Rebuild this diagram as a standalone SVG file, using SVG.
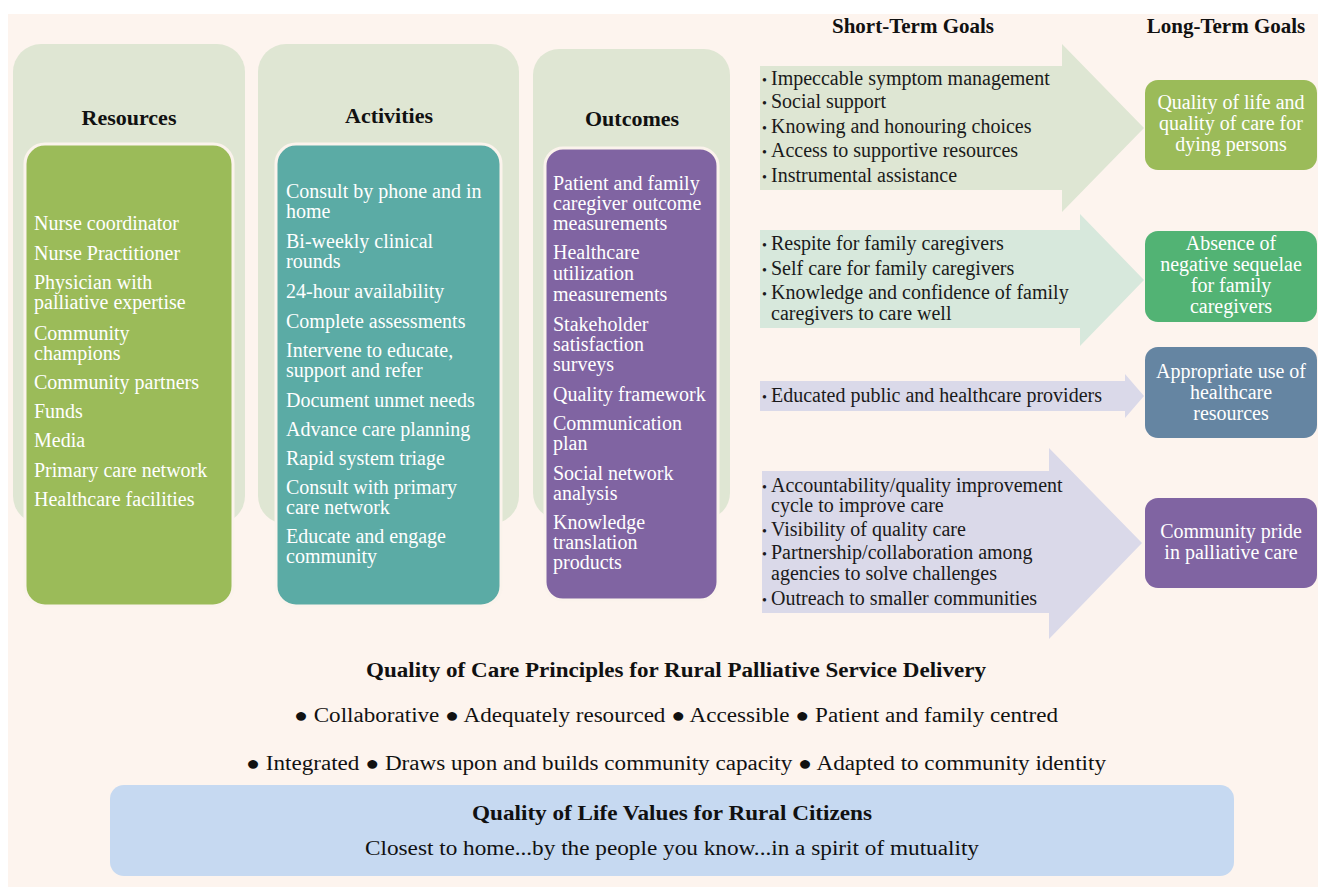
<svg xmlns="http://www.w3.org/2000/svg" width="1318" height="887" viewBox="0 0 1318 887">
  <style>
    .title { font-family: "Liberation Serif", "Times New Roman", serif; font-weight: bold; fill: #111111; }
    .item { font-family: "Liberation Serif", "Times New Roman", serif; font-size: 20px; fill: #ffffff; }
    .goal { font-family: "Liberation Serif", "Times New Roman", serif; font-size: 20px; fill: #1a1a1a; }
    .bul { font-family: "Liberation Serif", "Times New Roman", serif; font-size: 14px; fill: #1a1a1a; }
    .lt { font-family: "Liberation Serif", "Times New Roman", serif; font-size: 20px; fill: #ffffff; text-anchor: middle; }
    .col { fill: #dfe6d3; }
    .inner { stroke: #fbf3ec; stroke-width: 3; }
    .principle { font-family: "Liberation Serif", "Times New Roman", serif; font-size: 20px; fill: #111111; text-anchor: middle; }
  </style>

  <!-- page background -->
  <rect x="0" y="0" width="1318" height="887" fill="#ffffff"/>
  <rect x="8" y="14" width="1310" height="873" fill="#fdf4ee"/>

  <!-- Resources column -->
  <g id="resources">
    <rect class="col" x="13" y="44" width="232" height="480" rx="28"/>
    <text class="title" x="129" y="125" font-size="22" text-anchor="middle">Resources</text>
    <rect class="inner" x="25" y="144" width="208" height="462" rx="20" fill="#9bbb59"/>
    <text class="item" x="34" y="230">Nurse coordinator</text>
    <text class="item" x="34" y="260">Nurse Practitioner</text>
    <text class="item" x="34" y="289">Physician with</text>
    <text class="item" x="34" y="309">palliative expertise</text>
    <text class="item" x="34" y="340">Community</text>
    <text class="item" x="34" y="360">champions</text>
    <text class="item" x="34" y="389">Community partners</text>
    <text class="item" x="34" y="418">Funds</text>
    <text class="item" x="34" y="447">Media</text>
    <text class="item" x="34" y="477">Primary care network</text>
    <text class="item" x="34" y="506">Healthcare facilities</text>
  </g>

  <!-- Activities column -->
  <g id="activities">
    <rect class="col" x="258" y="44" width="261" height="480" rx="28"/>
    <text class="title" x="389" y="123" font-size="22" text-anchor="middle">Activities</text>
    <rect class="inner" x="276" y="144" width="225" height="462" rx="20" fill="#5baba5"/>
    <text class="item" x="286" y="198">Consult by phone and in</text>
    <text class="item" x="286" y="218">home</text>
    <text class="item" x="286" y="248">Bi-weekly clinical</text>
    <text class="item" x="286" y="268">rounds</text>
    <text class="item" x="286" y="298">24-hour availability</text>
    <text class="item" x="286" y="328">Complete assessments</text>
    <text class="item" x="286" y="357">Intervene to educate,</text>
    <text class="item" x="286" y="377">support and refer</text>
    <text class="item" x="286" y="407">Document unmet needs</text>
    <text class="item" x="286" y="436">Advance care planning</text>
    <text class="item" x="286" y="465">Rapid system triage</text>
    <text class="item" x="286" y="494">Consult with primary</text>
    <text class="item" x="286" y="514">care network</text>
    <text class="item" x="286" y="543">Educate and engage</text>
    <text class="item" x="286" y="563">community</text>
  </g>

  <!-- Outcomes column -->
  <g id="outcomes">
    <rect class="col" x="533" y="49" width="197" height="470" rx="26"/>
    <text class="title" x="632" y="126" font-size="22" text-anchor="middle">Outcomes</text>
    <rect class="inner" x="545" y="148" width="173" height="452" rx="18" fill="#8064a2"/>
    <text class="item" x="553" y="190">Patient and family</text>
    <text class="item" x="553" y="210">caregiver outcome</text>
    <text class="item" x="553" y="230">measurements</text>
    <text class="item" x="553" y="259">Healthcare</text>
    <text class="item" x="553" y="280">utilization</text>
    <text class="item" x="553" y="301">measurements</text>
    <text class="item" x="553" y="331">Stakeholder</text>
    <text class="item" x="553" y="351">satisfaction</text>
    <text class="item" x="553" y="371">surveys</text>
    <text class="item" x="553" y="401">Quality framework</text>
    <text class="item" x="553" y="430">Communication</text>
    <text class="item" x="553" y="450">plan</text>
    <text class="item" x="553" y="480">Social network</text>
    <text class="item" x="553" y="500">analysis</text>
    <text class="item" x="553" y="529">Knowledge</text>
    <text class="item" x="553" y="549">translation</text>
    <text class="item" x="553" y="569">products</text>
  </g>

  <!-- goal headings -->
  <text class="title" x="913" y="33" font-size="21" text-anchor="middle">Short-Term Goals</text>
  <text class="title" x="1226" y="33" font-size="21" text-anchor="middle">Long-Term Goals</text>

  <!-- short-term goal block arrows -->
  <g id="connectors">
    <g id="short-term-1">
      <polygon points="760,66 1062,66 1062,44 1144,128 1062,212 1062,190 760,190" fill="#dee6d3"/>
      <text class="bul" x="762" y="85">•</text><text class="goal" x="771" y="85">Impeccable symptom management</text>
      <text class="bul" x="762" y="108">•</text><text class="goal" x="771" y="108">Social support</text>
      <text class="bul" x="762" y="133">•</text><text class="goal" x="771" y="133">Knowing and honouring choices</text>
      <text class="bul" x="762" y="157">•</text><text class="goal" x="771" y="157">Access to supportive resources</text>
      <text class="bul" x="762" y="182">•</text><text class="goal" x="771" y="182">Instrumental assistance</text>
    </g>
    <g id="short-term-2">
      <polygon points="760,230 1080,230 1080,214 1144,280 1080,346 1080,328 760,328" fill="#d7e8dc"/>
      <text class="bul" x="762" y="250">•</text><text class="goal" x="771" y="250">Respite for family caregivers</text>
      <text class="bul" x="762" y="275">•</text><text class="goal" x="771" y="275">Self care for family caregivers</text>
      <text class="bul" x="762" y="299">•</text><text class="goal" x="771" y="299">Knowledge and confidence of family</text>
      <text class="goal" x="771" y="320">caregivers to care well</text>
    </g>
    <g id="short-term-3">
      <polygon points="760,381 1125,381 1125,374 1144,396 1125,418 1125,411 760,411" fill="#dad9e9"/>
      <text class="bul" x="762" y="402">•</text><text class="goal" x="771" y="402">Educated public and healthcare providers</text>
    </g>
    <g id="short-term-4">
      <polygon points="762,471 1049,471 1049,448 1142,543 1049,639 1049,613 762,613" fill="#dad9e9"/>
      <text class="bul" x="762" y="492">•</text><text class="goal" x="771" y="492">Accountability/quality improvement</text>
      <text class="goal" x="771" y="512">cycle to improve care</text>
      <text class="bul" x="762" y="536">•</text><text class="goal" x="771" y="536">Visibility of quality care</text>
      <text class="bul" x="762" y="559">•</text><text class="goal" x="771" y="559">Partnership/collaboration among</text>
      <text class="goal" x="771" y="580">agencies to solve challenges</text>
      <text class="bul" x="762" y="605">•</text><text class="goal" x="771" y="605">Outreach to smaller communities</text>
    </g>
  </g>

  <!-- long-term goals -->
  <g id="long-term-1">
    <rect x="1145" y="80" width="172" height="90" rx="13" fill="#9bbb59"/>
    <text class="lt" x="1231" y="109">Quality of life and</text>
    <text class="lt" x="1231" y="130">quality of care for</text>
    <text class="lt" x="1231" y="151">dying persons</text>
  </g>
  <g id="long-term-2">
    <rect x="1145" y="231" width="172" height="91" rx="13" fill="#52b374"/>
    <text class="lt" x="1231" y="250">Absence of</text>
    <text class="lt" x="1231" y="271">negative sequelae</text>
    <text class="lt" x="1231" y="292">for family</text>
    <text class="lt" x="1231" y="313">caregivers</text>
  </g>
  <g id="long-term-3">
    <rect x="1145" y="347" width="172" height="91" rx="13" fill="#6585a2"/>
    <text class="lt" x="1231" y="378">Appropriate use of</text>
    <text class="lt" x="1231" y="399">healthcare</text>
    <text class="lt" x="1231" y="420">resources</text>
  </g>
  <g id="long-term-4">
    <rect x="1145" y="498" width="172" height="90" rx="13" fill="#8064a2"/>
    <text class="lt" x="1231" y="538">Community pride</text>
    <text class="lt" x="1231" y="559">in palliative care</text>
  </g>

  <!-- principles -->
  <g id="principles">
    <text class="title" x="676" y="677" font-size="20" text-anchor="middle" textLength="620" lengthAdjust="spacingAndGlyphs">Quality of Care Principles for Rural Palliative Service Delivery</text>
    <text class="principle" x="676" y="722" textLength="764" lengthAdjust="spacingAndGlyphs">● Collaborative ● Adequately resourced ● Accessible ● Patient and family centred</text>
    <text class="principle" x="676" y="770" textLength="860" lengthAdjust="spacingAndGlyphs">● Integrated ● Draws upon and builds community capacity ● Adapted to community identity</text>
  </g>

  <!-- values -->
  <g id="values">
    <rect x="110" y="785" width="1124" height="91" rx="14" fill="#c6d9f1"/>
    <text class="title" x="672" y="820" font-size="20" text-anchor="middle" textLength="400" lengthAdjust="spacingAndGlyphs">Quality of Life Values for Rural Citizens</text>
    <text class="principle" x="672" y="855" textLength="614" lengthAdjust="spacingAndGlyphs">Closest to home...by the people you know...in a spirit of mutuality</text>
  </g>
</svg>
